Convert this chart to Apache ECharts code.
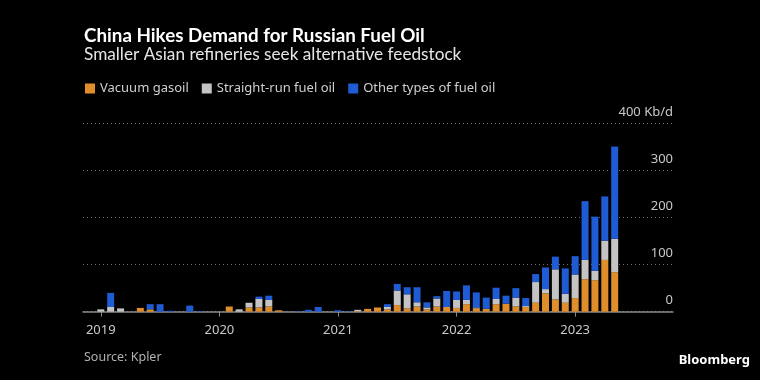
<!DOCTYPE html>
<html><head><meta charset="utf-8">
<script src="https://cdn.jsdelivr.net/npm/echarts@6/dist/echarts.min.js"></script>
<style>html,body{margin:0;padding:0;background:#000;}#c{width:760px;height:380px;}</style>
</head><body><div id="c"></div>
<script>
const months = ["2019-01","2019-02","2019-03","2019-04","2019-05","2019-06","2019-07","2019-08","2019-09","2019-10","2019-11","2019-12",
"2020-01","2020-02","2020-03","2020-04","2020-05","2020-06","2020-07","2020-08","2020-09","2020-10","2020-11","2020-12",
"2021-01","2021-02","2021-03","2021-04","2021-05","2021-06","2021-07","2021-08","2021-09","2021-10","2021-11","2021-12",
"2022-01","2022-02","2022-03","2022-04","2022-05","2022-06","2022-07","2022-08","2022-09","2022-10","2022-11","2022-12",
"2023-01","2023-02","2023-03","2023-04","2023-05"];
const vacuumGasoil = [0,0,0,0,8,5,0,0,0,0,0,0, 0,11,0,9,9,11,3,0,0,0,0,0, 0,0,1,6,9,5,14,7,11,5,11,10, 8,16,7,6,16,17,11,10,19,39,26,19, 29,69,67,110,84];
const straightRun = [5,10,7,0,0,0,0,0,0,0,0,0, 0,0,5,10,18,14,0,0,0,0,0,0, 0,0,3,0,0,5,31,30,9,4,17,0, 17,9,2,0,11,0,19,2,44,9,64,19, 50,41,20,41,71];
const otherTypes = [0,30,0,0,0,11,16,2,0,13,1,0, 0,0,0,0,5,9,0,0,1,4,10,0, 3,1,0,0,0,6,14,15,32,11,5,34, 18,31,32,24,24,17,20,17,17,46,27,54, 39,125,115,94,196];
const yearTicks = ["2019","2020","2021","2022","2023"];
const seriesNames = ["Vacuum gasoil","Straight-run fuel oil","Other types of fuel oil"];
const colors = ["#e08e2c","#c4c4c4","#1f5bd3"];

const startYear = 2019;
const tickIdx = yearTicks.map(y=>(Number(y)-startYear)*12);

// layout: visible axis spans month index -1.8 .. 57.9 across grid 83..673
const axL = 83, axR = 673, mMin = -1.8, mMax = 57.9;
const pxPerMonth = (axR-axL)/(mMax-mMin);
const barLeft = axL + (0 - mMin)*pxPerMonth - pxPerMonth/2;
const barRight = barLeft + months.length*pxPerMonth;
const gTop = 123.5, gBottom = 68.3;

const chart = echarts.init(document.getElementById('c'));
const font = "Noto Sans";
chart.setOption({
  backgroundColor:"#000",
  animation:false,
  color:colors,
  textStyle:{fontFamily:font},
  title:[
    {text:"China Hikes Demand for Russian Fuel Oil",left:84,top:26,padding:0,textStyle:{color:"#fff",fontSize:18.8,fontWeight:"bold",fontFamily:"Lato"}},
    {text:"Smaller Asian refineries seek alternative feedstock",left:84,top:46,padding:0,textStyle:{color:"#e6e6e6",fontSize:17.2,fontWeight:"normal",fontFamily:"Lato"}},
    {text:"Source: Kpler",left:84,top:351,padding:0,textStyle:{color:"#b0b0b0",fontSize:12.5,fontWeight:"normal",fontFamily:font}},
    {text:"Bloomberg",right:10,top:354,padding:0,textStyle:{color:"#fff",fontSize:13,fontWeight:"bold",fontFamily:font}}
  ],
  legend:{left:85,top:82,padding:0,icon:"rect",itemWidth:10,itemHeight:10,itemGap:13,
    textStyle:{color:"#cfcfcf",fontSize:13,fontFamily:font},
    data:seriesNames},
  grid:[
    {left:axL,right:760-axR,top:gTop,bottom:gBottom},
    {left:barLeft,right:760-barRight,top:gTop,bottom:gBottom}
  ],
  xAxis:[
    {type:"value",gridIndex:0,min:mMin,max:mMax,
      splitLine:{show:false},
      axisLine:{show:true,lineStyle:{color:"#8a8a8a",width:1.5}},
      axisTick:{show:true,customValues:tickIdx,length:5,lineStyle:{color:"#8a8a8a"}},
      axisLabel:{customValues:tickIdx,color:"#c8c8c8",fontSize:13,margin:12,
        formatter:v=>yearTicks[tickIdx.indexOf(v)]||""}},
    {type:"category",gridIndex:1,data:months,boundaryGap:true,show:false}
  ],
  yAxis:[
    {type:"value",gridIndex:0,position:"right",min:0,max:400,interval:100,
      axisLine:{show:false},axisTick:{show:false},
      splitLine:{show:true,lineStyle:{color:"#6e6e6e",type:[1,3],width:1}},
      axisLabel:{inside:true,margin:0,color:"#c8c8c8",fontSize:13,verticalAlign:"bottom",padding:[0,0,5,0],
        formatter:v=>v===400? v+" Kb/d" : String(v)}},
    {type:"value",gridIndex:1,min:0,max:400,show:false,splitLine:{show:false}}
  ],
  series:[
    {name:seriesNames[0],type:"bar",xAxisIndex:1,yAxisIndex:1,stack:"s",barWidth:7,data:vacuumGasoil},
    {name:seriesNames[1],type:"bar",xAxisIndex:1,yAxisIndex:1,stack:"s",barWidth:7,data:straightRun},
    {name:seriesNames[2],type:"bar",xAxisIndex:1,yAxisIndex:1,stack:"s",barWidth:7,data:otherTypes}
  ]
});
</script></body></html>
